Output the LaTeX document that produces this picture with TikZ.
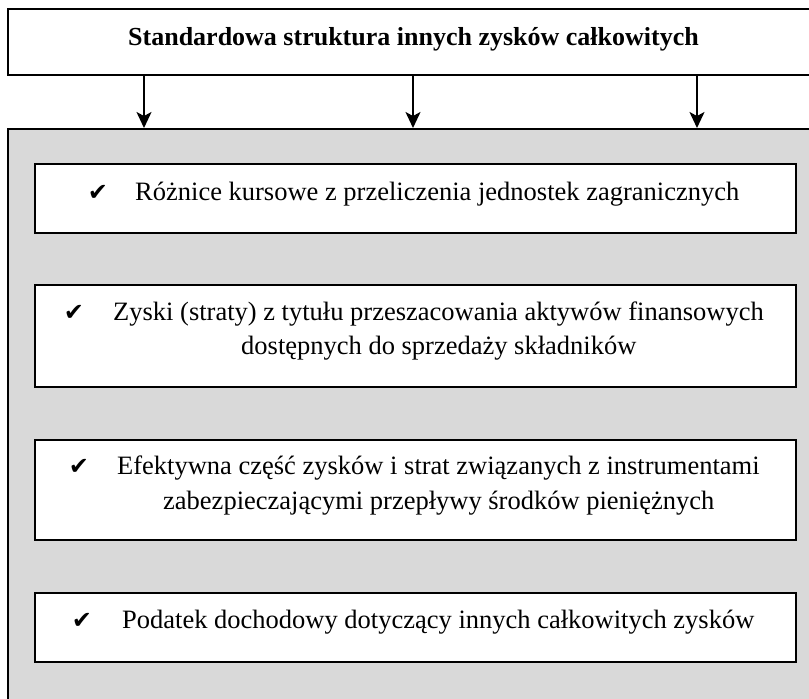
\documentclass[tikz,border=0pt]{standalone}
\usepackage{fontspec}
\setmainfont{Liberation Serif}
\newfontfamily\symfont{DejaVu Sans}
\usetikzlibrary{arrows.meta}
\definecolor{panelgrey}{HTML}{D9D9D9}
\begin{document}
\begin{tikzpicture}[x=1pt,y=-1pt,
 box/.style={draw=black,line width=1.6pt,rectangle,inner sep=0pt,minimum width=761pt},
 txt/.style={anchor=base west,inner sep=0pt,font=\fontsize{26.5}{32}\selectfont},
 chk/.style={anchor=base,inner sep=0pt,font=\symfont\fontsize{24}{28}\selectfont},
 arr/.style={line width=1.8pt,-{Stealth[length=16pt,width=15pt,inset=4pt]}}]
\clip (0,0) rectangle (809,699);
\fill[white] (0,0) rectangle (809,699);
% title box
\node[draw=black,line width=1.6pt,fill=white,minimum width=810pt,minimum height=66pt,inner sep=0pt] (top) at (413,42) {};
\node[txt,font=\bfseries\fontsize{26}{32}\selectfont] (title) at (128,45) {Standardowa struktura innych zysków całkowitych};
% grey panel
\node[draw=black,line width=1.6pt,fill=panelgrey,minimum width=810pt,minimum height=600pt,inner sep=0pt,anchor=north] (panel) at (413,128) {};
% arrows
\coordinate (x1) at (144,0);
\coordinate (x2) at (413,0);
\coordinate (x3) at (697,0);
\draw[arr] (top.south -| x1) -- (panel.north -| x1);
\draw[arr] (top.south -| x2) -- (panel.north -| x2);
\draw[arr] (top.south -| x3) -- (panel.north -| x3);
% inner boxes
\node[box,fill=white,minimum height=69pt] (b1) at (415.5,198.5) {};
\node[box,fill=white,minimum height=102pt] (b2) at (415.5,336) {};
\node[box,fill=white,minimum height=100pt] (b3) at (415.5,490) {};
\node[box,fill=white,minimum height=69pt] (b4) at (415.5,627.5) {};
% box 1
\node[chk] (c1) at (98,200) {✔};
\node[txt] (t1) at (135,200) {Różnice kursowe z przeliczenia jednostek zagranicznych};
% box 2
\node[chk] (c2) at (74,320) {✔};
\node[txt] (t2a) at (113,320) {Zyski (straty) z tytułu przeszacowania aktywów finansowych};
\node[txt] (t2b) at (241,354) {dostępnych do sprzedaży składników};
% box 3
\node[chk] (c3) at (79,474) {✔};
\node[txt] (t3a) at (117,474) {Efektywna część zysków i strat związanych z instrumentami};
\node[txt] (t3b) at (163,509) {zabezpieczającymi przepływy środków pieniężnych};
% box 4
\node[chk] (c4) at (82,628) {✔};
\node[txt] (t4) at (122,628) {Podatek dochodowy dotyczący innych całkowitych zysków};
\end{tikzpicture}
\end{document}
